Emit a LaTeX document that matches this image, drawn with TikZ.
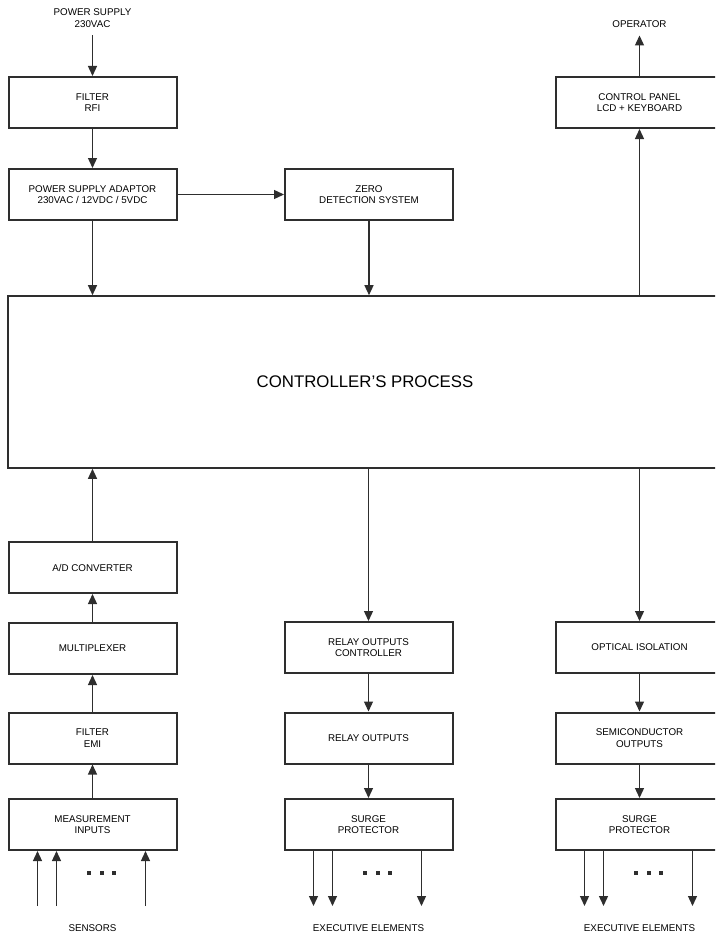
\documentclass[tikz,border=0pt]{standalone}
\usepackage{fontspec}
\setmainfont{Liberation Sans}
\usetikzlibrary{positioning,arrows.meta,calc}
\definecolor{ink}{gray}{0.18}
\tikzstyle{block}=[draw=ink,line width=2pt,minimum width=168pt,minimum height=51pt,inner sep=0pt,align=center,font=\fontsize{9.8}{11.5}\selectfont]
\tikzstyle{caption}=[align=center,inner sep=3pt,outer sep=5pt,font=\fontsize{9.8}{11.5}\selectfont]
\tikzstyle{link}=[draw=ink,line width=1.3pt,-{Triangle[length=10pt,width=9pt]}]

\begin{document}
\begin{tikzpicture}[x=1pt,y=-1pt]
  \useasboundingbox (0,0) rectangle (715,934);
  \clip (0,0) rectangle (715,934);

  \foreach \pos / \name / \txt in {{(92.5,102.5)/filt/{FILTER\\RFI}}, {(92.5,194.5)/adapt/{POWER SUPPLY ADAPTOR\\230VAC / 12VDC / 5VDC}},
                                   {(369,194.5)/zero/{ZERO\\DETECTION SYSTEM}}, {(639.5,102.5)/panel/{CONTROL PANEL\\LCD + KEYBOARD}},
                                   {(92.5,567.5)/adc/{A/D CONVERTER}}, {(92.5,648.5)/mux/{MULTIPLEXER}},
                                   {(92.5,738)/emi/{FILTER\\EMI}}, {(92.5,824.5)/meas/{MEASUREMENT\\INPUTS}},
                                   {(368.5,647.5)/relc/{RELAY OUTPUTS\\CONTROLLER}}, {(368.5,738)/rel/{RELAY OUTPUTS}},
                                   {(368.5,824.5)/surgA/{SURGE\\PROTECTOR}}, {(639.5,647.5)/opt/{OPTICAL ISOLATION}},
                                   {(639.5,738)/semi/{SEMICONDUCTOR\\OUTPUTS}}, {(639.5,824.5)/surgB/{SURGE\\PROTECTOR}}}
    \node[block] (\name) at \pos {\txt};

  \node[block,line width=1.6pt,minimum width=714pt,minimum height=172pt,font=\fontsize{16.8}{18}\selectfont] (proc) at (365,382) {CONTROLLER'S PROCESS};

  \node[caption] (ps) at (92.5,18) {POWER SUPPLY\\230VAC};
  \node[caption] (op) at (639.5,24) {OPERATOR};
  \node[caption] (sens) at (92.5,928) {SENSORS};
  \node[caption] (execA) at (368.5,928) {EXECUTIVE ELEMENTS};
  \node[caption] (execB) at (639.5,928) {EXECUTIVE ELEMENTS};

  % straight links between blocks
  \foreach \source / \dest in {ps/filt, filt/adapt, adapt/zero, panel/op,
                               meas/emi, emi/mux, mux/adc,
                               relc/rel, rel/surgA, opt/semi, semi/surgB}
      \path[link] (\source) -- (\dest);

  % links to and from the process
  \path[link] (adapt) -- (adapt |- proc.north);
  \path[link] (zero) -- (zero |- proc.north);
  \path[link] (proc.north -| panel) -- (panel);
  \path[link] (adc) -- (adc |- proc.south);
  \path[link] (proc.south -| relc) -- (relc);
  \path[link] (proc.south -| opt) -- (opt);

  % sensor inputs and executive outputs
  \foreach \dx / \k in {-55/1, -36/2, 53/3} {
    \coordinate (sin\k) at ([xshift=\dx pt,yshift=-55pt]meas.south);
    \path[link] (sin\k) -- (sin\k |- meas.south);
    \coordinate (outA\k) at ([xshift=\dx pt,yshift=-55pt]surgA.south);
    \path[link] (outA\k |- surgA.south) -- (outA\k);
    \coordinate (outB\k) at ([xshift=\dx pt,yshift=-55pt]surgB.south);
    \path[link] (outB\k |- surgB.south) -- (outB\k);
  }
  \foreach \n in {meas,surgA,surgB}
    \foreach \dx in {-5.5,7,19}
      \fill[ink] ([xshift=\dx pt,yshift=-20pt]\n.south) rectangle +(4,4);
\end{tikzpicture}
\end{document}
